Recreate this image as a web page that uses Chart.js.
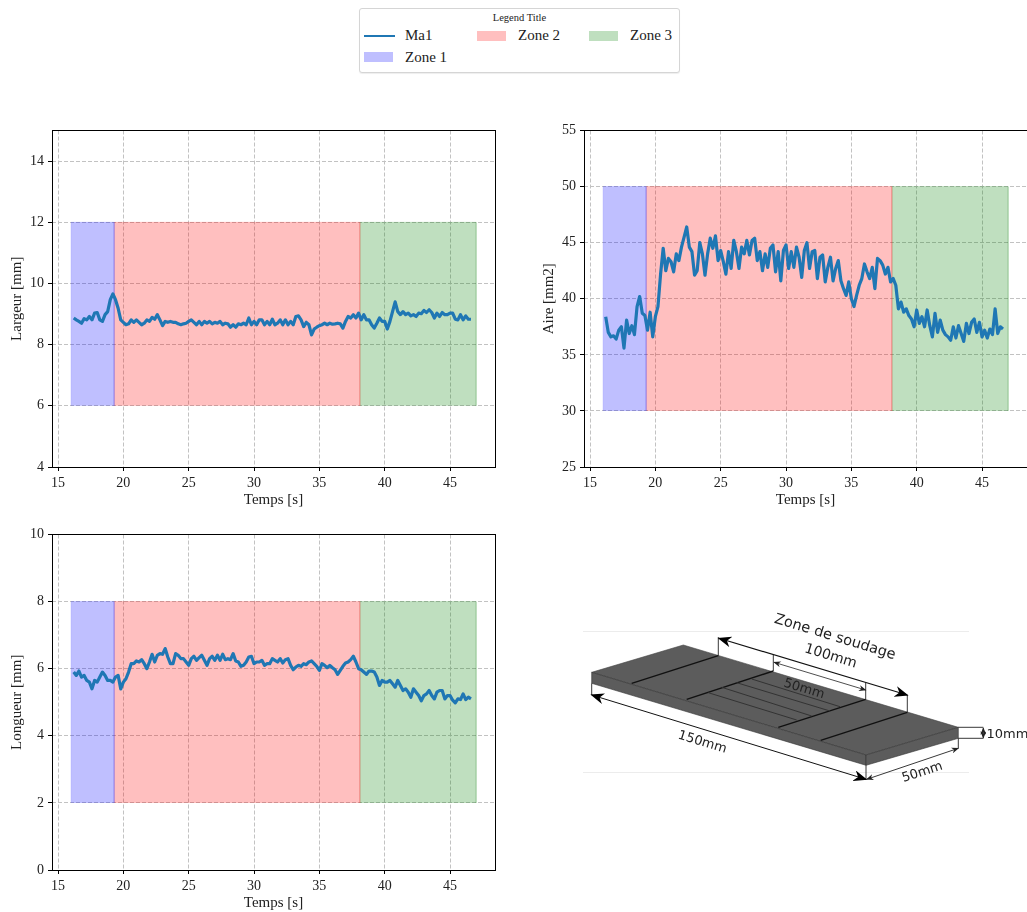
<!DOCTYPE html>
<html>
<head>
<meta charset="utf-8">
<title>Zones de soudage</title>
<script src="https://cdn.jsdelivr.net/npm/chart.js@4"></script>
<style>
    html, body { margin: 0; padding: 0; background: #fff; overflow: hidden; }
    body { width: 1027px; height: 912px; position: relative; font-family: "Liberation Serif", serif; color: #222; }
    canvas { position: absolute; display: block; }
    #legend { position: absolute; left: 359px; top: 8px; width: 319px; height: 63px; border: 1px solid #d5d5d5; border-radius: 3px; background: #fff; box-shadow: 0 1px 1px #eee; }
    #legend .title { position: absolute; left: 0; width: 100%; top: 3px; text-align: center; font-size: 10.5px; }
    #legend .item { position: absolute; font-size: 15px; line-height: 18px; }
    #legend .swatch { position: absolute; height: 10px; width: 29px; box-sizing: border-box; }
    #legend .stroke { position: absolute; height: 2px; width: 31px; background: #1f77b4; }
    #diagram { position: absolute; left: 0; top: 0; }
    #diagram text { font-family: "DejaVu Sans", sans-serif; font-size: 13px; fill: #222; text-anchor: middle; dominant-baseline: middle; }
</style>
</head>
<body>
<canvas id="chart-largeur" width="510" height="389" style="left:0;top:120px"></canvas>
<canvas id="chart-aire" width="496" height="389" style="left:532px;top:120px"></canvas>
<canvas id="chart-longueur" width="510" height="388" style="left:0;top:524px"></canvas>
<div id="legend"></div>

<svg id="diagram" width="1027" height="912">
    <defs>
        <marker id="head" viewBox="0 0 10 8" refX="9" refY="4" markerWidth="14" markerHeight="11" markerUnits="userSpaceOnUse" orient="auto-start-reverse">
            <path d="M0,0 L10,4 L0,8 L3,4 z" fill="#000"></path>
        </marker>
        <marker id="head-small" viewBox="0 0 10 8" refX="9" refY="4" markerWidth="8" markerHeight="6" markerUnits="userSpaceOnUse" orient="auto-start-reverse">
            <path d="M0,0 L10,4 L0,8 L3,4 z" fill="#222"></path>
        </marker>
    </defs>
    <line x1="583" y1="631.5" x2="969" y2="631.5" stroke="#ececec"></line>
    <line x1="583" y1="772.5" x2="969" y2="772.5" stroke="#ececec"></line>
    <polygon points="591.7,672.3 683.3,645 958.3,727.3 866,755" fill="#5c5c5c" stroke="#444" stroke-width="0.6"></polygon>
    <polygon points="591.7,672.3 866,755 866,765.3 591.7,683.3" fill="#5c5c5c" stroke="#333" stroke-width="0.6"></polygon>
    <polygon points="866,755 958.3,727.3 958.3,738.3 866,765.3" fill="#5c5c5c" stroke="#333" stroke-width="0.6"></polygon>
    <g stroke="#111" stroke-width="1.4">
        <line x1="631.7" y1="683.3" x2="718.3" y2="655.7"></line>
        <line x1="686.7" y1="699.3" x2="773.3" y2="671"></line>
        <line x1="778.3" y1="727.3" x2="865.7" y2="699.3"></line>
        <line x1="820.7" y1="740.3" x2="907.3" y2="712.3"></line>
    </g>
    <g stroke="#333" stroke-width="1">
        <line x1="708.3" y1="692.7" x2="796.7" y2="720"></line>
        <line x1="721.7" y1="687.3" x2="811.7" y2="716"></line>
        <line x1="736.7" y1="682.7" x2="830" y2="711"></line>
        <line x1="751.7" y1="679" x2="840" y2="706.7"></line>
    </g>
    <g stroke="#222" stroke-width="0.9" fill="none">
        <line x1="718.3" y1="655.7" x2="718.3" y2="637"></line>
        <line x1="773.3" y1="671" x2="773.3" y2="655"></line>
        <line x1="865.7" y1="699.3" x2="865.7" y2="682.7"></line>
        <line x1="907.3" y1="712.3" x2="907.3" y2="695"></line>
        <line x1="591.7" y1="683.3" x2="591.7" y2="695"></line>
        <line x1="866" y1="765.3" x2="866" y2="780"></line>
        <line x1="958.3" y1="738.3" x2="958.3" y2="748.3"></line>
        <line x1="958.3" y1="727.3" x2="983.3" y2="727.3"></line>
        <line x1="958.3" y1="738.3" x2="983.3" y2="738.3"></line>
    </g>
    <line x1="719" y1="638.3" x2="907.3" y2="695" stroke="#111" stroke-width="1.2" marker-start="url(#head)" marker-end="url(#head)"></line>
    <line x1="774" y1="662.3" x2="865.7" y2="690" stroke="#222" stroke-width="0.8" marker-start="url(#head-small)" marker-end="url(#head-small)"></line>
    <line x1="591.7" y1="695" x2="866" y2="779.3" stroke="#111" stroke-width="1" marker-start="url(#head)" marker-end="url(#head)"></line>
    <line x1="866.7" y1="779.3" x2="958.3" y2="748.3" stroke="#222" stroke-width="0.9" marker-start="url(#head-small)" marker-end="url(#head-small)"></line>
    <line x1="983.3" y1="728" x2="983.3" y2="738" stroke="#222" stroke-width="0.8" marker-start="url(#head-small)" marker-end="url(#head-small)"></line>
    <text transform="translate(835,637) rotate(17)" style="font-size:14.5px">Zone de soudage</text>
    <text transform="translate(830.7,656) rotate(17)" style="font-size:14px">100mm</text>
    <text transform="translate(804,689) rotate(17)">50mm</text>
    <text transform="translate(702.3,742.3) rotate(17)">150mm</text>
    <text transform="translate(922.3,772.3) rotate(-18)">50mm</text>
    <text transform="translate(1007.5,734)">10mm</text>
</svg>

<script>
// Data
const temps = [
    16.2, 16.4, 16.6, 16.8, 17.0, 17.2, 17.4, 17.6, 17.8, 18.0,
    18.2, 18.4, 18.6, 18.8, 19.0, 19.2, 19.4, 19.6, 19.8, 20.0,
    20.2, 20.4, 20.6, 20.8, 21.0, 21.2, 21.4, 21.6, 21.8, 22.0,
    22.2, 22.4, 22.6, 22.8, 23.0, 23.2, 23.4, 23.6, 23.8, 24.0,
    24.2, 24.4, 24.6, 24.8, 25.0, 25.2, 25.4, 25.6, 25.8, 26.0,
    26.2, 26.4, 26.6, 26.8, 27.0, 27.2, 27.4, 27.6, 27.8, 28.0,
    28.2, 28.4, 28.6, 28.8, 29.0, 29.2, 29.4, 29.6, 29.8, 30.0,
    30.2, 30.4, 30.6, 30.8, 31.0, 31.2, 31.4, 31.6, 31.8, 32.0,
    32.2, 32.4, 32.6, 32.8, 33.0, 33.2, 33.4, 33.6, 33.8, 34.0,
    34.2, 34.4, 34.6, 34.8, 35.0, 35.2, 35.4, 35.6, 35.8, 36.0,
    36.2, 36.4, 36.6, 36.8, 37.0, 37.2, 37.4, 37.6, 37.8, 38.0,
    38.2, 38.4, 38.6, 38.8, 39.0, 39.2, 39.4, 39.6, 39.8, 40.0,
    40.2, 40.4, 40.6, 40.8, 41.0, 41.2, 41.4, 41.6, 41.8, 42.0,
    42.2, 42.4, 42.6, 42.8, 43.0, 43.2, 43.4, 43.6, 43.8, 44.0,
    44.2, 44.4, 44.6, 44.8, 45.0, 45.2, 45.4, 45.6, 45.8, 46.0,
    46.2, 46.4, 46.6
];

const largeur = [
    8.87, 8.81, 8.76, 8.70, 8.85, 8.81, 8.92, 8.81, 9.03, 9.05,
    8.81, 8.76, 8.98, 9.08, 9.47, 9.66, 9.47, 9.19, 8.81, 8.73,
    8.65, 8.68, 8.81, 8.73, 8.81, 8.73, 8.65, 8.70, 8.81, 8.76,
    8.89, 8.83, 8.98, 8.81, 8.62, 8.76, 8.73, 8.76, 8.73, 8.73,
    8.68, 8.65, 8.68, 8.70, 8.76, 8.81, 8.73, 8.65, 8.76, 8.65,
    8.76, 8.70, 8.76, 8.68, 8.73, 8.70, 8.76, 8.65, 8.70, 8.68,
    8.57, 8.65, 8.57, 8.68, 8.65, 8.70, 8.65, 8.87, 8.65, 8.76,
    8.65, 8.81, 8.81, 8.65, 8.76, 8.65, 8.83, 8.65, 8.70, 8.81,
    8.65, 8.81, 8.65, 8.76, 8.65, 8.92, 8.94, 8.81, 8.59, 8.73,
    8.65, 8.32, 8.51, 8.57, 8.62, 8.65, 8.70, 8.65, 8.70, 8.67,
    8.68, 8.70, 8.68, 8.54, 8.76, 8.92, 8.87, 8.98, 8.87, 9.03,
    8.81, 8.98, 8.81, 8.81, 8.65, 8.54, 8.70, 8.87, 8.76, 8.76,
    8.51, 8.76, 9.08, 9.40, 9.08, 8.98, 9.08, 8.98, 9.03, 8.94,
    8.98, 8.92, 9.03, 9.01, 9.12, 9.05, 9.14, 9.05, 8.87, 9.03,
    8.92, 9.05, 8.98, 8.98, 9.03, 9.03, 8.83, 8.81, 8.98, 8.81,
    8.94, 8.83, 8.83
];

const aire = [
    38.4, 37.0, 36.6, 36.7, 36.4, 37.2, 37.5, 35.6, 38.1, 36.9,
    37.6, 36.8, 39.3, 40.2, 38.7, 38.5, 37.2, 38.8, 36.6, 38.4,
    39.3, 42.2, 44.5, 42.5, 43.6, 43.3, 42.4, 44.0, 43.4, 44.6,
    45.5, 46.4, 44.6, 44.2, 42.1, 42.5, 45.0, 44.0, 42.1, 44.0,
    45.4, 44.5, 45.6, 43.4, 44.3, 43.3, 42.2, 44.2, 42.7, 45.2,
    44.2, 42.7, 44.6, 44.0, 45.2, 43.9, 45.2, 45.4, 43.4, 44.2,
    42.5, 44.0, 42.8, 44.5, 44.8, 42.4, 44.2, 41.6, 44.3, 44.8,
    42.7, 44.2, 42.8, 44.6, 43.7, 41.9, 44.3, 45.0, 42.7, 44.2,
    44.3, 41.8, 43.7, 43.9, 41.5, 42.8, 43.7, 41.6, 42.7, 43.4,
    41.6, 40.9, 40.3, 41.5, 40.0, 39.3, 40.3, 41.2, 41.8, 43.1,
    42.4, 41.8, 42.8, 40.9, 43.6, 43.4, 43.0, 42.2, 42.8, 41.5,
    41.8, 41.2, 39.1, 39.7, 38.8, 39.1, 38.5, 38.2, 37.5, 39.0,
    37.8, 38.4, 37.5, 39.0, 37.6, 36.6, 38.7, 37.0, 38.1, 37.2,
    36.8, 36.6, 36.3, 37.5, 36.5, 37.6, 36.9, 36.2, 37.8, 36.9,
    37.9, 38.2, 37.0, 37.9, 36.6, 37.2, 36.5, 37.3, 36.8, 39.1,
    36.9, 37.5, 37.3
];

const longueur = [
    5.90, 5.80, 5.93, 5.75, 5.80, 5.65, 5.60, 5.40, 5.65, 5.60,
    5.75, 5.90, 5.80, 5.65, 5.65, 5.60, 5.75, 5.80, 5.40, 5.60,
    5.70, 5.90, 6.15, 6.15, 6.23, 6.20, 6.27, 6.15, 6.00, 6.20,
    6.43, 6.20, 6.40, 6.45, 6.43, 6.60, 6.35, 6.15, 6.15, 6.45,
    6.40, 6.30, 6.30, 6.20, 6.10, 6.30, 6.37, 6.25, 6.33, 6.40,
    6.25, 6.10, 6.30, 6.37, 6.25, 6.40, 6.25, 6.43, 6.27, 6.30,
    6.27, 6.45, 6.23, 6.20, 6.07, 6.10, 6.20, 6.35, 6.37, 6.15,
    6.20, 6.20, 6.25, 6.10, 6.15, 6.15, 6.30, 6.25, 6.20, 6.30,
    6.17, 6.27, 6.30, 6.10, 5.97, 6.05, 6.10, 6.07, 6.15, 6.12,
    6.20, 6.23, 6.15, 6.07, 5.95, 6.15, 6.10, 6.03, 6.10, 6.03,
    5.97, 5.83, 5.95, 6.07, 6.17, 6.20, 6.27, 6.37, 6.20, 6.00,
    5.97, 5.90, 5.83, 5.93, 5.93, 5.90, 5.75, 5.50, 5.65, 5.60,
    5.60, 5.65, 5.55, 5.45, 5.65, 5.50, 5.35, 5.40, 5.30, 5.15,
    5.40, 5.30, 5.20, 5.04, 5.20, 5.25, 5.35, 5.20, 5.10, 5.30,
    5.35, 5.35, 5.10, 5.20, 5.20, 5.06, 4.98, 5.10, 5.08, 5.25,
    5.08, 5.15, 5.10
];

const zoneNames = ['Zone 1', 'Zone 2', 'Zone 3'];
const zoneStarts = [16, 19.3, 38.1];
const zoneEnds = [19.3, 38.1, 47];
const zoneFills = ['rgba(0,0,255,0.25)', 'rgba(255,0,0,0.25)', 'rgba(0,128,0,0.25)'];
const zoneEdges = ['rgba(0,0,255,0.14)', 'rgba(255,0,0,0.14)', 'rgba(0,128,0,0.14)'];

const xMin = 14.54;
const xMax = 48.44;

// Spines on all four sides
const framePlugin = {
    id: 'frame',
    afterDraw(chart) {
        const { ctx, chartArea: a } = chart;
        const top = Math.floor(a.top);
        ctx.save();
        ctx.strokeStyle = '#000';
        ctx.lineWidth = 1;
        ctx.strokeRect(Math.round(a.left) + 0.5, top + 0.5, Math.round(a.right - a.left), Math.round(a.bottom - top));
        ctx.restore();
    }
};

function zoneDataset(i, low, high) {
    return {
        type: 'line',
        label: zoneNames[i],
        data: [
            { x: zoneStarts[i], y: low },
            { x: zoneStarts[i], y: high },
            { x: zoneEnds[i], y: high },
            { x: zoneEnds[i], y: low }
        ],
        borderColor: zoneEdges[i],
        backgroundColor: zoneFills[i],
        borderWidth: 1,
        pointRadius: 0,
        tension: 0,
        fill: { value: low }
    };
}

function axisTicks(stepSize) {
    return {
        stepSize,
        includeBounds: false,
        autoSkip: false,
        maxRotation: 0,
        color: '#222',
        padding: 4,
        font: { family: '"Liberation Serif", serif', size: 14 }
    };
}

function axisGrid() {
    return {
        color: '#c2c2c2',
        tickColor: '#000',
        tickLength: 4,
        tickBorderDash: [],
        lineWidth: 1
    };
}

function makeChart(canvasId, opts) {
    const datasets = [{
        type: 'line',
        label: 'Ma1',
        data: temps.map((t, i) => ({ x: t, y: opts.values[i] })),
        borderColor: '#1f77b4',
        borderWidth: 3.2,
        borderJoinStyle: 'round',
        pointRadius: 0,
        tension: 0,
        fill: false
    }];
    zoneNames.forEach((name, i) => datasets.push(zoneDataset(i, opts.zoneLow, opts.zoneHigh)));

    return new Chart(document.getElementById(canvasId), {
        type: 'line',
        data: { datasets },
        plugins: [framePlugin],
        options: {
            responsive: false,
            animation: false,
            devicePixelRatio: 1,
            layout: { padding: { top: 10.5, right: opts.rightPad, left: 0, bottom: 0 } },
            plugins: { legend: { display: false }, tooltip: { enabled: false } },
            scales: {
                x: {
                    type: 'linear',
                    min: xMin,
                    max: xMax,
                    ticks: axisTicks(5),
                    grid: axisGrid(),
                    border: { display: false, dash: [4, 2] },
                    title: {
                        display: true,
                        text: 'Temps [s]',
                        color: '#222',
                        padding: 0,
                        font: { family: '"Liberation Serif", serif', size: 15 }
                    },
                    afterFit(scale) {
                        scale.height = 42;
                        scale.paddingLeft = 0;
                        scale.paddingRight = 0;
                    }
                },
                y: {
                    type: 'linear',
                    min: opts.yMin,
                    max: opts.yMax,
                    ticks: axisTicks(opts.yStep),
                    grid: axisGrid(),
                    border: { display: false, dash: [4, 2] },
                    title: {
                        display: true,
                        text: opts.yLabel,
                        color: '#222',
                        padding: 8,
                        font: { family: '"Liberation Serif", serif', size: 15 }
                    },
                    afterFit(scale) {
                        scale.width = 52;
                        scale.paddingTop = 0;
                        scale.paddingBottom = 0;
                    }
                }
            }
        }
    });
}

makeChart('chart-largeur', { values: largeur, zoneLow: 6, zoneHigh: 12, yMin: 4, yMax: 15, yStep: 2, yLabel: 'Largeur [mm]', rightPad: 15 });
makeChart('chart-aire', { values: aire, zoneLow: 30, zoneHigh: 50, yMin: 25, yMax: 55, yStep: 5, yLabel: 'Aire [mm2]', rightPad: 1 });
makeChart('chart-longueur', { values: longueur, zoneLow: 2, zoneHigh: 8, yMin: 0, yMax: 10, yStep: 2, yLabel: 'Longueur [mm]', rightPad: 15 });

// Legend
const legend = document.getElementById('legend');
legend.innerHTML = '<div class="title">Legend Title</div>' +
    '<div class="stroke" style="left:4px;top:26px"></div>' +
    '<div class="item" style="left:45px;top:17px">Ma1</div>' +
    '<div class="swatch" style="left:117px;top:22px;background:' + zoneFills[1] + '"></div>' +
    '<div class="item" style="left:158px;top:17px">' + zoneNames[1] + '</div>' +
    '<div class="swatch" style="left:229px;top:22px;background:' + zoneFills[2] + '"></div>' +
    '<div class="item" style="left:270px;top:17px">' + zoneNames[2] + '</div>' +
    '<div class="swatch" style="left:4px;top:43px;background:' + zoneFills[0] + '"></div>' +
    '<div class="item" style="left:45px;top:39px">' + zoneNames[0] + '</div>';
</script>
</body>
</html>
